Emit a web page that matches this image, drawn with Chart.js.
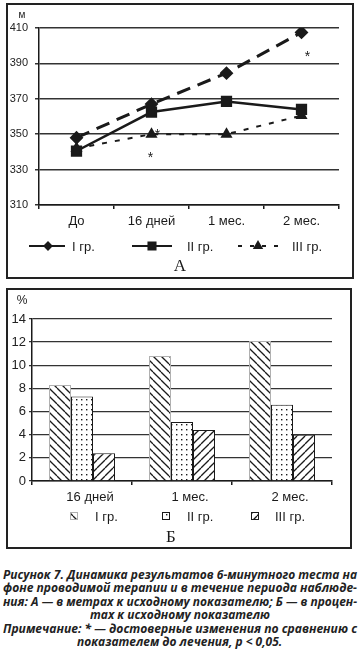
<!DOCTYPE html>
<html><head><meta charset="utf-8">
<script src="https://cdn.jsdelivr.net/npm/chart.js@4.4.1/dist/chart.umd.min.js"></script>
<style>
html,body{margin:0;padding:0;background:#fff;width:360px;height:654px;overflow:hidden;position:relative;}
.box{position:absolute;box-sizing:border-box;border:2px solid #222;}
canvas{position:absolute;}
#cap{position:absolute;left:3px;top:568px;width:354px;font-family:"Open Sans","Noto Sans",sans-serif;font-weight:700;font-style:italic;font-size:13px;color:#222;}
#cap div{height:13.4px;line-height:13.4px;white-space:nowrap;position:relative;}
#cap span{display:inline-block;position:absolute;top:0;}
</style></head>
<body>
<div class="box" style="left:6px;top:3px;width:348px;height:276px"></div>
<div class="box" style="left:6px;top:288px;width:346px;height:261px"></div>
<canvas id="ca" width="342" height="270" style="left:9px;top:6px;width:342px;height:270px"></canvas>
<canvas id="cb" width="342" height="254" style="left:9px;top:292px;width:342px;height:254px"></canvas>
<div id="cap"></div>
<script>
// ---- Data: panel A (metres) ----
const categoriesA = ['До', '16 дней', '1 мес.', '2 мес.'];
const groupI_m = [348, 367, 384.5, 407.5];
const groupII_m = [340.5, 362.5, 368.5, 364];
const groupIII_m = [342, 350, 350, 360.5];
const ticksA = [310, 330, 350, 370, 390, 410];
// ---- Data: panel B (percent) ----
const categoriesB = ['16 дней', '1 мес.', '2 мес.'];
const groupI_pct = [8.3, 10.8, 12.1];
const groupII_pct = [7.3, 5.1, 6.6];
const groupIII_pct = [2.4, 4.4, 4.0];
const ticksB = [0, 2, 4, 6, 8, 10, 12, 14];
const seriesNames = ['I гр.', 'II гр.', 'III гр.'];
const unitA = 'м', unitB = '%', panelA = 'А', panelB = 'Б';
const captionLines = [
 'Рисунок 7. Динамика результатов 6-минутного теста на',
 'фоне проводимой терапии и в течение периода наблюде-',
 'ния: А — в метрах к исходному показателю; Б — в процен-',
 'тах к исходному показателю',
 'Примечание: * — достоверные изменения по сравнению с',
 'показателем до лечения, p < 0,05.'
];
const justified = [true, true, true, false, true, false];
// significance marks: [series index, category index]
const starsA = [[2, 1], [2, 1], [0, 3]];

const INK = '#1a1a1a';
const SANS = '"Liberation Sans", Arial, sans-serif';

function makePattern(kind) {
  const s = kind === 'dots' ? 5 : 8;
  const c = document.createElement('canvas');
  c.width = s; c.height = s;
  const g = c.getContext('2d');
  g.fillStyle = '#fff'; g.fillRect(0, 0, s, s);
  g.strokeStyle = INK; g.fillStyle = INK; g.lineWidth = 1.3;
  if (kind === 'back') {
    for (let k = -1; k <= 1; k++) { g.beginPath(); g.moveTo(0, k * s); g.lineTo(s, s + k * s); g.stroke(); }
  } else if (kind === 'fwd') {
    for (let k = 0; k <= 2; k++) { g.beginPath(); g.moveTo(0, k * s); g.lineTo(s, k * s - s); g.stroke(); }
  } else {
    g.fillRect(2, 2, 1.4, 1.4);
  }
  return document.createElement('canvas').getContext('2d').createPattern(c, 'repeat');
}

function drawMarker(ctx, style, r, x, y) {
  Chart.helpers.drawPoint(ctx, {pointStyle: style, radius: r, rotation: 0, borderWidth: 1}, x, y);
}

// ---------- Panel A ----------
const dsA = [
  {label: seriesNames[0], data: groupI_m, borderColor: INK, backgroundColor: INK, borderWidth: 3, borderDash: [14, 8],
   pointStyle: 'rectRot', pointRadius: 4.8, pointBorderColor: INK, pointBackgroundColor: INK},
  {label: seriesNames[1], data: groupII_m, borderColor: INK, backgroundColor: INK, borderWidth: 2.5,
   pointStyle: 'rect', pointRadius: 6.2, pointBorderColor: INK, pointBackgroundColor: INK},
  {label: seriesNames[2], data: groupIII_m, borderColor: INK, backgroundColor: INK, borderWidth: 2, borderDash: [5, 8],
   pointStyle: 'triangle', pointRadius: 5, pointBorderColor: INK, pointBackgroundColor: INK}
];

const annA = {
  id: 'annA',
  afterDraw(chart) {
    const ctx = chart.ctx, xs = chart.scales.x, ys = chart.scales.y;
    ctx.save();
    ctx.fillStyle = INK;
    ctx.font = '10px ' + SANS; ctx.textAlign = 'center'; ctx.textBaseline = 'middle';
    ctx.fillText(unitA, 13, 9);
    // stars
    ctx.font = '14px ' + SANS;
    const offs = [[6, 1], [-1, 24], [6, 25]];
    starsA.forEach((s, i) => {
      const ds = chart.data.datasets[s[0]];
      const x = xs.getPixelForValue(s[1]) + offs[i][0];
      const y = ys.getPixelForValue(ds.data[s[1]]) + offs[i][1];
      ctx.fillText('*', x, y);
    });
    // legend
    const ly = 240;
    const items = [[20, 56, 39, 63], [123, 163, 143, 178], [229, 269, 249, 283]];
    chart.data.datasets.forEach((ds, i) => {
      const it = items[i];
      ctx.strokeStyle = INK; ctx.lineWidth = 2;
      ctx.setLineDash(i === 2 ? [4, 8] : []);
      ctx.beginPath(); ctx.moveTo(it[0], ly); ctx.lineTo(it[1], ly); ctx.stroke();
      ctx.setLineDash([]);
      ctx.fillStyle = INK; ctx.strokeStyle = INK;
      drawMarker(ctx, ds.pointStyle, i === 0 ? 3.5 : (i === 1 ? 5 : 4), it[2], ly);
      ctx.font = '13px ' + SANS; ctx.textAlign = 'left'; ctx.textBaseline = 'middle';
      ctx.fillText(ds.label, it[3], ly + 1);
    });
    ctx.font = '17px "Liberation Serif", serif'; ctx.textAlign = 'center';
    ctx.fillText(panelA, 171, 261);
    ctx.restore();
  }
};

new Chart(document.getElementById('ca'), {
  type: 'line',
  data: {labels: categoriesA, datasets: dsA},
  options: {
    responsive: false, animation: false, devicePixelRatio: 1,
    layout: {padding: {left: 0, top: 22, right: 12, bottom: 0}},
    plugins: {legend: {display: false}, tooltip: {enabled: false}},
    scales: {
      x: {offset: true,
        grid: {offset: true, drawOnChartArea: false, drawTicks: true, tickLength: 4, color: INK, lineWidth: 1.5},
        border: {display: true, color: INK, width: 1.5},
        ticks: {font: {size: 13, family: SANS}, color: INK, padding: 5, maxRotation: 0},
        afterFit(s) { s.height = 71; }},
      y: {min: ticksA[0], max: ticksA[ticksA.length - 1],
        afterBuildTicks(s) { s.ticks = ticksA.map(v => ({value: v})); },
        grid: {color: '#333', lineWidth: 1.5, tickLength: 4},
        border: {display: true, color: INK, width: 1.5},
        ticks: {font: {size: 11, family: SANS}, color: '#222', padding: 7},
        afterFit(s) { s.width = 30; }}
    }
  },
  plugins: [annA]
});

// ---------- Panel B ----------
const patI = makePattern('back'), patII = makePattern('dots'), patIII = makePattern('fwd');
const dsB = [
  {label: seriesNames[0], data: groupI_pct, backgroundColor: patI, borderColor: '#b0b0b0', borderWidth: 1},
  {label: seriesNames[1], data: groupII_pct, backgroundColor: patII, borderColor: INK, borderWidth: 1},
  {label: seriesNames[2], data: groupIII_pct, backgroundColor: patIII, borderColor: INK, borderWidth: 1}
];

const annB = {
  id: 'annB',
  afterDraw(chart) {
    const ctx = chart.ctx;
    ctx.save();
    ctx.fillStyle = INK;
    ctx.font = '12px ' + SANS; ctx.textAlign = 'center'; ctx.textBaseline = 'middle';
    ctx.fillText(unitB, 13, 9);
    const ly = 224;
    const items = [[65, 86], [157, 178], [246, 266]];
    chart.data.datasets.forEach((ds, i) => {
      const it = items[i];
      ctx.fillStyle = ds.backgroundColor;
      ctx.fillRect(it[0] - 4, ly - 4, 8, 8);
      ctx.strokeStyle = ds.borderColor; ctx.lineWidth = 1;
      ctx.strokeRect(it[0] - 4 + 0.5, ly - 4 + 0.5, 7, 7);
      ctx.fillStyle = INK;
      ctx.font = '13px ' + SANS; ctx.textAlign = 'left';
      ctx.fillText(ds.label, it[1], ly + 1);
    });
    ctx.font = '17px "Liberation Serif", serif'; ctx.textAlign = 'center';
    ctx.fillText(panelB, 162, 246);
    ctx.restore();
  }
};

new Chart(document.getElementById('cb'), {
  type: 'bar',
  data: {labels: categoriesB, datasets: dsB},
  options: {
    responsive: false, animation: false, devicePixelRatio: 1,
    layout: {padding: {left: 0, top: 27, right: 19, bottom: 0}},
    plugins: {legend: {display: false}, tooltip: {enabled: false}},
    datasets: {bar: {categoryPercentage: 0.66, barPercentage: 1}},
    scales: {
      x: {grid: {offset: true, drawOnChartArea: false, drawTicks: true, tickLength: 4, color: INK, lineWidth: 1.5},
        border: {display: true, color: INK, width: 1.5},
        ticks: {font: {size: 13, family: SANS}, color: INK, padding: 5, labelOffset: 8, maxRotation: 0},
        afterFit(s) { s.height = 65; }},
      y: {min: ticksB[0], max: ticksB[ticksB.length - 1],
        afterBuildTicks(s) { s.ticks = ticksB.map(v => ({value: v})); },
        grid: {color: '#333', lineWidth: 1.3, tickLength: 3},
        border: {display: true, color: INK, width: 1.5},
        ticks: {font: {size: 13, family: SANS}, color: '#222', padding: 3},
        afterFit(s) { s.width = 23; }}
    }
  },
  plugins: [annB]
});

// ---------- Caption ----------
const cap = document.getElementById('cap');
const spans = captionLines.map((t, i) => {
  const d = document.createElement('div');
  const s = document.createElement('span');
  s.textContent = t; d.appendChild(s); cap.appendChild(d); return s;
});
let refScale = 1;
spans.forEach((s, i) => {
  if (justified[i]) {
    const w = s.getBoundingClientRect().width;
    const k = 354 / w; refScale = Math.min(refScale, k);
    s.style.left = '0px'; s.style.transformOrigin = 'left center';
    s.style.transform = 'scaleX(' + k + ')';
  }
});
spans.forEach((s, i) => {
  if (!justified[i]) {
    const w = s.getBoundingClientRect().width * refScale;
    s.style.left = ((354 - w) / 2) + 'px'; s.style.transformOrigin = 'left center';
    s.style.transform = 'scaleX(' + refScale + ')';
  }
});
</script>
</body></html>
